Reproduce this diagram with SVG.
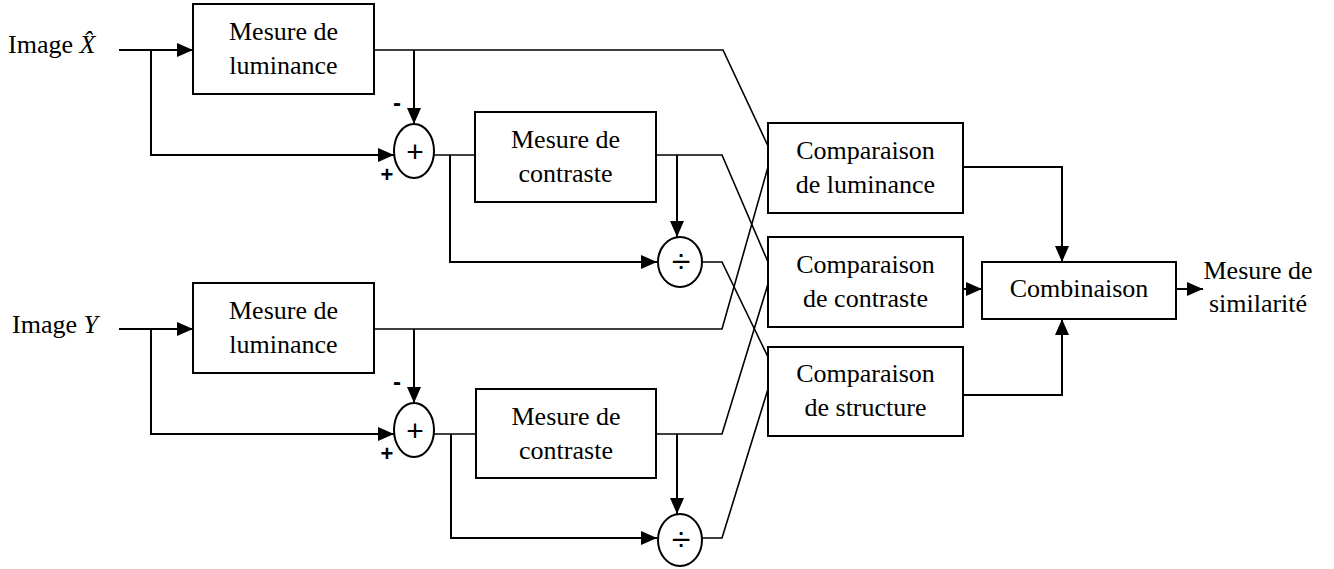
<svg xmlns="http://www.w3.org/2000/svg" width="1334" height="569" viewBox="0 0 1334 569">
  <style>
    .box { fill: #fff; stroke: #000; stroke-width: 2; }
    .op { fill: #fff; stroke: #000; stroke-width: 2; }
    .lbl { font-family: "Liberation Serif", "Times New Roman", serif; font-size: 26px; fill: #000; text-anchor: middle; }
    .in { font-family: "Liberation Serif", "Times New Roman", serif; font-size: 26px; fill: #000; }
    .sym { font-family: "Liberation Sans", Arial, sans-serif; fill: #000; text-anchor: middle; }
    .wire { fill: none; stroke: #000; stroke-width: 2; }
    .thin { fill: none; stroke: #000; stroke-width: 1.6; }
    .arr { marker-end: url(#head); }
  </style>
  <defs>
    <marker id="head" markerUnits="userSpaceOnUse" markerWidth="16" markerHeight="14" refX="16" refY="7" orient="auto">
      <path d="M0,0 L16,7 L0,14 z" fill="#000"/>
    </marker>
  </defs>

  <rect width="1334" height="569" fill="#fff"/>

  <!-- input labels -->
  <g id="input-x">
    <text class="in" x="8" y="53">Image <tspan font-style="italic">X&#x302;</tspan></text>
  </g>
  <g id="input-y">
    <text class="in" x="12" y="333">Image <tspan font-style="italic">Y</tspan></text>
  </g>

  <!-- connectors -->
  <g id="connectors">
    <!-- branch X -->
    <path class="wire arr" d="M119,50 H193"/>
    <path class="wire arr" d="M151,50 V155 H394"/>
    <path class="wire arr" d="M414,50 V124"/>
    <path class="thin" d="M434,155 H475"/>
    <path class="wire arr" d="M450,155 V262 H657"/>
    <path class="wire arr" d="M677,155 V237"/>
    <path class="thin" d="M374,50 H723 L768,146"/>
    <path class="thin" d="M656,155 H722 L768,262"/>
    <path class="thin" d="M702,262 H722 L768,357"/>

    <!-- branch Y -->
    <path class="wire arr" d="M119,329 H193"/>
    <path class="wire arr" d="M151,329 V434 H394"/>
    <path class="wire arr" d="M414,329 V403"/>
    <path class="thin" d="M434,434 H476"/>
    <path class="wire arr" d="M451,434 V538 H657"/>
    <path class="wire arr" d="M677,434 V514"/>
    <path class="thin" d="M374,329 H722 L768,167"/>
    <path class="thin" d="M656,434 H722 L768,284"/>
    <path class="thin" d="M702,538 H722 L768,389"/>

    <!-- comparisons to combination -->
    <path class="wire arr" d="M963,167 H1062 V262"/>
    <path class="wire arr" d="M963,289 H982"/>
    <path class="wire arr" d="M963,395 H1062 V319"/>
    <path class="wire arr" d="M1176,289 H1203"/>
  </g>

  <!-- X chain -->
  <g id="lum-x">
    <rect class="box" x="193" y="4" width="181" height="90"/>
    <text class="lbl" x="283.5" y="40">Mesure de</text>
    <text class="lbl" x="283.5" y="74">luminance</text>
  </g>
  <g id="sum-x">
    <ellipse class="op" cx="414" cy="151" rx="20" ry="27"/>
    <text class="sym" x="415" y="162" font-size="30">+</text>
    <text class="sym" x="397" y="111" font-size="24" font-weight="bold">-</text>
    <text class="sym" x="387" y="182" font-size="22" font-weight="bold">+</text>
  </g>
  <g id="con-x">
    <rect class="box" x="475" y="112" width="181" height="90"/>
    <text class="lbl" x="565.5" y="148">Mesure de</text>
    <text class="lbl" x="565.5" y="182">contraste</text>
  </g>
  <g id="div-x">
    <ellipse class="op" cx="680" cy="262" rx="22" ry="25"/>
    <text class="sym" x="681" y="273" font-size="34">÷</text>
  </g>

  <!-- Y chain -->
  <g id="lum-y">
    <rect class="box" x="193" y="283" width="181" height="90"/>
    <text class="lbl" x="283.5" y="319">Mesure de</text>
    <text class="lbl" x="283.5" y="353">luminance</text>
  </g>
  <g id="sum-y">
    <ellipse class="op" cx="414" cy="430" rx="20" ry="27"/>
    <text class="sym" x="415" y="441" font-size="30">+</text>
    <text class="sym" x="397" y="390" font-size="24" font-weight="bold">-</text>
    <text class="sym" x="387" y="461" font-size="22" font-weight="bold">+</text>
  </g>
  <g id="con-y">
    <rect class="box" x="476" y="389" width="180" height="89"/>
    <text class="lbl" x="566" y="424.5">Mesure de</text>
    <text class="lbl" x="566" y="458.5">contraste</text>
  </g>
  <g id="div-y">
    <ellipse class="op" cx="680" cy="540" rx="22" ry="26"/>
    <text class="sym" x="681" y="551" font-size="34">÷</text>
  </g>

  <!-- comparisons -->
  <g id="cmp-lum">
    <rect class="box" x="768" y="123" width="195" height="90"/>
    <text class="lbl" x="865.5" y="159">Comparaison</text>
    <text class="lbl" x="865.5" y="193">de luminance</text>
  </g>
  <g id="cmp-con">
    <rect class="box" x="768" y="237" width="195" height="90"/>
    <text class="lbl" x="865.5" y="273">Comparaison</text>
    <text class="lbl" x="865.5" y="307">de contraste</text>
  </g>
  <g id="cmp-str">
    <rect class="box" x="768" y="347" width="195" height="89"/>
    <text class="lbl" x="865.5" y="382">Comparaison</text>
    <text class="lbl" x="865.5" y="416">de structure</text>
  </g>

  <!-- combination and output -->
  <g id="combine">
    <rect class="box" x="982" y="262" width="194" height="57"/>
    <text class="lbl" x="1079" y="297">Combinaison</text>
  </g>
  <g id="output">
    <text class="lbl" x="1258" y="279">Mesure de</text>
    <text class="lbl" x="1258" y="312">similarité</text>
  </g>
</svg>
